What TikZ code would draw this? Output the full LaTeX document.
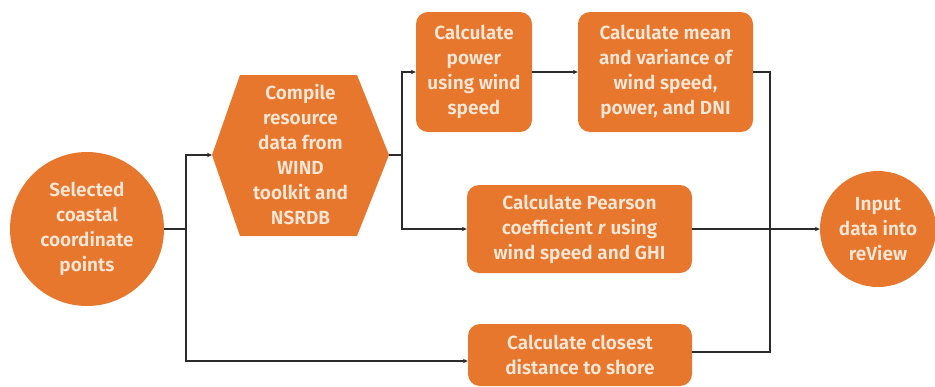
\documentclass[tikz,border=0pt]{standalone}
\usepackage{fontspec}
\setmainfont{Fira Sans}[BoldFont={* SemiBold}]
\usetikzlibrary{arrows.meta}
\definecolor{org}{HTML}{E8772E}
\definecolor{txt}{HTML}{FCE8D8}
\definecolor{ln}{HTML}{2B2B2B}
\begin{document}
\begin{tikzpicture}[x=1pt,y=-1pt,
  lbl/.style={text=txt, font=\bfseries\fontsize{19}{25}\selectfont, align=center, inner sep=0pt},
  box/.style={lbl, fill=org, rounded corners=12pt, rectangle},
  disc/.style={lbl, fill=org, circle},
  conn/.style={draw=ln, line width=1.1pt},
  arr/.style={conn, -{Stealth[length=5pt,width=4.5pt]}}]
\useasboundingbox (0,0) rectangle (935,386);
% shapes
\node[disc, minimum size=154pt] (circL) at (87,229) {Selected\\coastal\\coordinate\\points};
\fill[org] (212,155) -- (240,75) -- (357,75) -- (389,155) -- (357,236) -- (240,236) -- cycle;
\node[lbl] (hex) at (300.5,155) {Compile\\resource\\data from\\WIND\\toolkit and\\NSRDB};
\coordinate (hexL) at (212,155);
\coordinate (hexR) at (389,155);
\node[box, minimum width=116pt, minimum height=120pt] (box1) at (474,72) {Calculate\\power\\using wind\\speed};
\node[box, minimum width=175pt, minimum height=120pt] (box2) at (665.5,72) {Calculate mean\\and variance of\\wind speed,\\power, and DNI};
\node[box, minimum width=225pt, minimum height=88pt] (pear) at (579.5,229) {Calculate Pearson\\coefficient \textit{r} using\\wind speed and GHI};
\node[box, minimum width=224pt, minimum height=62pt] (close) at (580,355) {Calculate closest\\distance to shore};
\node[disc, minimum size=116pt] (circR) at (878,229) {Input\\data into\\reView};
% junctions
\coordinate (j1) at (186,229);
\coordinate (j2) at (402,155);
\coordinate (j3) at (770,229);
% connectors
\draw[conn] (circL.east) -- (j1);
\draw[arr] (j1) |- (hexL);
\draw[arr] (j1) |- ([yshift=-6pt]close.west);
\draw[conn] (hexR) -- (j2);
\draw[arr] (j2) |- (box1.west);
\draw[arr] (j2) |- (pear.west);
\draw[arr] (box1.east) -- (box2.west);
\draw[conn] (box2.east) -| (j3);
\draw[conn] ([yshift=3pt]close.east) -| (j3);
\draw[arr] (pear.east) -- (circR.west);
\end{tikzpicture}
\end{document}
